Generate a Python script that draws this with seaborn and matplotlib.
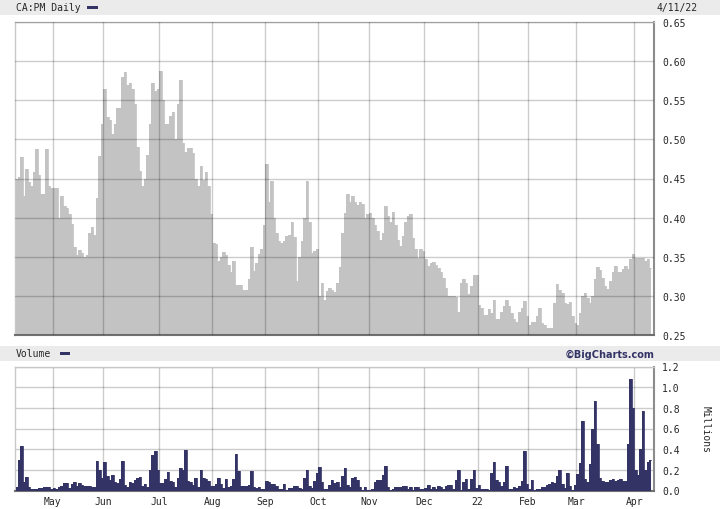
import numpy as np
import pandas as pd
import seaborn as sns
import matplotlib.pyplot as plt
from matplotlib.patches import Rectangle

# trading days, TSX holidays removed
holidays = ['2021-05-24', '2021-07-01', '2021-08-02', '2021-09-06', '2021-10-11',
            '2021-12-27', '2021-12-28', '2022-01-03', '2022-02-21']
dates = pd.bdate_range('2021-04-12', '2022-04-11')
dates = dates[~dates.isin(pd.to_datetime(holidays))]

# daily close, one line per month
price = [
    0.449, 0.452, 0.477, 0.428, 0.462, 0.445, 0.441, 0.458, 0.488, 0.455, 0.430, 0.430, 0.488, 0.440, 0.438,
    0.438, 0.438, 0.400, 0.428, 0.415, 0.412, 0.405, 0.392, 0.362, 0.352, 0.359, 0.355, 0.350, 0.352, 0.380,
    0.388, 0.378, 0.425, 0.479, 0.520,
    0.565, 0.528, 0.525, 0.507, 0.520, 0.540, 0.540, 0.580, 0.586, 0.570, 0.572, 0.565, 0.545, 0.490, 0.460,
    0.440, 0.450, 0.480, 0.520, 0.572, 0.562, 0.565,
    0.588, 0.550, 0.520, 0.520, 0.530, 0.535, 0.500, 0.545, 0.576, 0.495, 0.484, 0.489, 0.489, 0.482, 0.450,
    0.441, 0.466, 0.448, 0.458, 0.440, 0.405,
    0.368, 0.366, 0.345, 0.350, 0.356, 0.352, 0.340, 0.330, 0.345, 0.314, 0.314, 0.314, 0.308, 0.308, 0.322,
    0.362, 0.332, 0.342, 0.354, 0.360, 0.390,
    0.468, 0.420, 0.447, 0.400, 0.380, 0.370, 0.368, 0.370, 0.377, 0.378, 0.395, 0.375, 0.319, 0.350, 0.370,
    0.400, 0.447, 0.395, 0.355, 0.357, 0.360,
    0.300, 0.317, 0.295, 0.306, 0.310, 0.308, 0.305, 0.317, 0.337, 0.380, 0.406, 0.430, 0.420, 0.428, 0.420,
    0.416, 0.420, 0.418, 0.400, 0.405,
    0.406, 0.400, 0.391, 0.383, 0.372, 0.380, 0.415, 0.402, 0.394, 0.407, 0.391, 0.372, 0.364, 0.377, 0.394,
    0.402, 0.404, 0.374, 0.360, 0.349, 0.360, 0.357,
    0.347, 0.338, 0.342, 0.343, 0.340, 0.336, 0.330, 0.323, 0.310, 0.300, 0.300, 0.300, 0.298, 0.280, 0.317,
    0.321, 0.317, 0.302, 0.312, 0.327, 0.327,
    0.288, 0.285, 0.276, 0.275, 0.283, 0.278, 0.295, 0.270, 0.270, 0.279, 0.287, 0.295, 0.287, 0.278, 0.270,
    0.267, 0.280, 0.285, 0.293, 0.274,
    0.263, 0.266, 0.267, 0.274, 0.285, 0.265, 0.263, 0.259, 0.259, 0.259, 0.291, 0.315, 0.308, 0.304, 0.291,
    0.289, 0.292, 0.274, 0.265,
    0.263, 0.278, 0.300, 0.304, 0.297, 0.291, 0.300, 0.321, 0.337, 0.333, 0.323, 0.312, 0.309, 0.319, 0.330,
    0.338, 0.330, 0.331, 0.334, 0.338, 0.334, 0.347, 0.353,
    0.349, 0.349, 0.349, 0.349, 0.345, 0.347, 0.335,
]

# daily volume in millions
volume = [
    0.03, 0.30, 0.43, 0.08, 0.13, 0.035, 0.015, 0.01, 0.015, 0.02, 0.025, 0.035, 0.035, 0.035, 0.015,
    0.02, 0.015, 0.03, 0.045, 0.07, 0.07, 0.02, 0.06, 0.085, 0.045, 0.07, 0.05, 0.04, 0.04, 0.04,
    0.03, 0.03, 0.29, 0.20, 0.12,
    0.28, 0.14, 0.10, 0.15, 0.08, 0.07, 0.11, 0.29, 0.05, 0.035, 0.085, 0.07, 0.10, 0.125, 0.13,
    0.04, 0.06, 0.03, 0.20, 0.34, 0.38, 0.20,
    0.07, 0.075, 0.11, 0.18, 0.09, 0.08, 0.03, 0.12, 0.22, 0.20, 0.39, 0.09, 0.085, 0.05, 0.12,
    0.03, 0.20, 0.12, 0.11, 0.09, 0.045,
    0.045, 0.06, 0.125, 0.06, 0.02, 0.11, 0.03, 0.04, 0.11, 0.35, 0.19, 0.04, 0.045, 0.045, 0.05,
    0.19, 0.03, 0.02, 0.035, 0.015, 0.015,
    0.095, 0.085, 0.065, 0.06, 0.04, 0.015, 0.015, 0.06, 0.005, 0.02, 0.025, 0.045, 0.045, 0.02, 0.01,
    0.12, 0.20, 0.045, 0.02, 0.09, 0.17,
    0.23, 0.08, 0.015, 0.015, 0.05, 0.10, 0.07, 0.08, 0.035, 0.14, 0.215, 0.05, 0.03, 0.12, 0.135,
    0.10, 0.03, 0.005, 0.03, 0.005,
    0.005, 0.015, 0.08, 0.10, 0.105, 0.15, 0.24, 0.03, 0.005, 0.015, 0.03, 0.03, 0.035, 0.045, 0.04,
    0.015, 0.035, 0.005, 0.035, 0.03, 0.015, 0.015,
    0.02, 0.055, 0.015, 0.035, 0.015, 0.04, 0.035, 0.015, 0.045, 0.055, 0.055, 0.01, 0.10, 0.20, 0.005,
    0.08, 0.11, 0.015, 0.11, 0.20, 0.02,
    0.05, 0.01, 0.01, 0.01, 0.005, 0.17, 0.28, 0.10, 0.08, 0.045, 0.08, 0.24, 0.01, 0.015, 0.035,
    0.02, 0.04, 0.09, 0.38, 0.06,
    0.01, 0.10, 0.005, 0.01, 0.015, 0.035, 0.035, 0.05, 0.065, 0.08, 0.075, 0.14, 0.20, 0.06, 0.025,
    0.17, 0.04, 0.005, 0.055,
    0.16, 0.27, 0.67, 0.11, 0.08, 0.255, 0.60, 0.87, 0.45, 0.12, 0.095, 0.087, 0.087, 0.10, 0.11,
    0.09, 0.10, 0.11, 0.09, 0.095, 0.45, 1.08, 0.80,
    0.20, 0.15, 0.40, 0.77, 0.20, 0.28, 0.30,
]

month_labels = ['May', 'Jun', 'Jul', 'Aug', 'Sep', 'Oct', 'Nov', 'Dec', '22', 'Feb', 'Mar', 'Apr']
price_ticks = [0.25, 0.30, 0.35, 0.40, 0.45, 0.50, 0.55, 0.60, 0.65]
volume_ticks = [0.0, 0.2, 0.4, 0.6, 0.8, 1.0, 1.2]

df = pd.DataFrame({'day': np.arange(len(dates)), 'date': dates,
                   'price': price, 'volume': volume})
month_start = df.groupby(df['date'].dt.to_period('M'))['day'].min().values[1:] - 0.5

sns.set_style('white')
plt.rcParams['font.family'] = ['DejaVu Sans Mono']

W, H = 720, 510
fig = plt.figure(figsize=(W / 100, H / 100), dpi=100)

# header bands
fig.add_artist(Rectangle((0, 1 - 16 / H), 1, 16 / H, transform=fig.transFigure,
                         color='#ebebeb', lw=0))
fig.add_artist(Rectangle((0, 1 - 362 / H), 1, 15 / H, transform=fig.transFigure,
                         color='#ebebeb', lw=0))
fig.text(16 / W, 1 - 8 / H, 'CA:PM Daily', fontsize=7, va='center', ha='left')
fig.add_artist(Rectangle((87 / W, 1 - 10 / H), 11 / W, 3 / H, transform=fig.transFigure,
                         color='#333366', lw=0))
fig.text(698 / W, 1 - 8 / H, '4/11/22', fontsize=7, va='center', ha='right')
fig.text(16 / W, 1 - 354.5 / H, 'Volume', fontsize=7, va='center', ha='left')
fig.add_artist(Rectangle((60 / W, 1 - 356 / H), 10 / W, 3 / H, transform=fig.transFigure,
                         color='#333366', lw=0))
fig.text(655 / W, 1 - 354.5 / H, '\u00a9BigCharts.com', fontsize=7, fontweight='bold',
         family='DejaVu Sans', color='#333366', va='center', ha='right')

ax1 = fig.add_axes([15 / W, 1 - 336 / H, 639 / W, 313 / H])
ax2 = fig.add_axes([15 / W, 1 - 491.5 / H, 639 / W, 124 / H])

# price area
ax1.fill_between(df['day'], df['price'], 0.25, step='mid', color='#c3c3c3', lw=0)
sns.lineplot(data=df, x='day', y='price', ax=ax1, drawstyle='steps-mid',
             color='#c3c3c3', lw=0.6)

# volume area
ax2.fill_between(df['day'], df['volume'], 0, step='mid', color='#333366', lw=0, zorder=3)
sns.lineplot(data=df, x='day', y='volume', ax=ax2, drawstyle='steps-mid',
             color='#333366', lw=0.6, zorder=3)

xmax = len(df) - 0.5 + 0.8
for ax in (ax1, ax2):
    ax.set_xlim(-0.5, xmax)
    ax.set_xticks(month_start)
    ax.grid(True, color='black', alpha=0.2, lw=1)
    ax.yaxis.tick_right()
    ax.tick_params(axis='y', length=0, pad=6, labelsize=7)
    ax.tick_params(axis='x', length=0)
    ax.set_xlabel('')
    ax.set_ylabel('')
    for side in ('top', 'left'):
        ax.spines[side].set_color('#c8c8c8')
        ax.spines[side].set_linewidth(1)
    ax.spines['right'].set_color('#8c8c8c')
    ax.spines['right'].set_linewidth(1.5)
    ax.spines['bottom'].set_color('#707070')
    ax.spines['bottom'].set_linewidth(1.5)

ax1.set_axisbelow(False)
ax1.set_ylim(0.25, 0.65)
ax1.set_yticks(price_ticks)
ax1.set_yticklabels([f'{v:.2f}' for v in price_ticks])
ax1.tick_params(axis='x', labelbottom=False)

ax2.set_axisbelow(True)
ax2.set_ylim(0, 1.2)
ax2.set_yticks(volume_ticks)
ax2.set_yticklabels([f'{v:.1f}' for v in volume_ticks])
ax2.set_xticklabels(month_labels, fontsize=7)
ax2.tick_params(axis='x', pad=4)

fig.text(706 / W, 1 - 430 / H, 'Millions', fontsize=7, rotation=-90,
         va='center', ha='center')

fig.savefig('out.png', dpi=100)
